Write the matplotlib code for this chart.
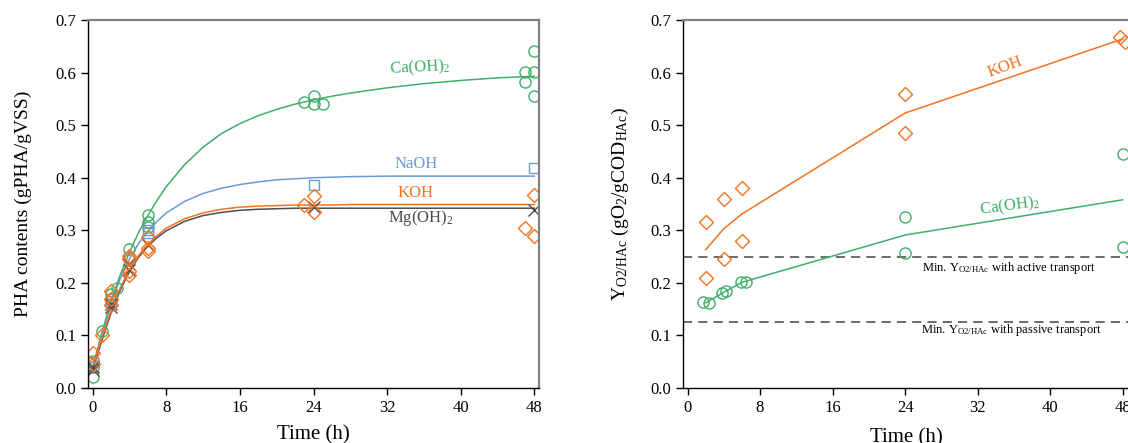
import matplotlib
matplotlib.use("Agg")
import matplotlib.pyplot as plt
import numpy as np

plt.rcParams['font.family'] = ['Liberation Serif', 'DejaVu Serif']
plt.rcParams['mathtext.fontset'] = 'custom'
plt.rcParams['mathtext.rm'] = 'Liberation Serif'
plt.rcParams['mathtext.it'] = 'Liberation Serif:italic'

# colours
c_ca = '#3fae6a'
c_na = '#6c9bd2'
c_k = '#f5721f'
c_mg = '#4d4d4d'

# ---------------- left panel: PHA contents ----------------
# measured points (time h, PHA gPHA/gVSS)
ca_t = [0, 0, 0, 1, 2, 2, 2.6, 4, 4, 6, 6, 6, 23, 24, 24, 25, 47, 47, 48, 48, 48]
ca_y = [0.02, 0.04, 0.052, 0.108, 0.17, 0.178, 0.19, 0.265, 0.25, 0.329, 0.315, 0.307,
        0.544, 0.555, 0.540, 0.541, 0.601, 0.582, 0.641, 0.601, 0.556]
na_t = [0, 0, 2, 2, 4, 6, 6, 24, 48]
na_y = [0.04, 0.05, 0.17, 0.165, 0.245, 0.30, 0.295, 0.387, 0.418]
k_t = [0, 0, 1, 2, 2, 2, 4, 4, 4, 4, 6, 6, 6, 23, 24, 24, 47, 48, 48]
k_y = [0.067, 0.045, 0.10, 0.185, 0.17, 0.158, 0.252, 0.245, 0.222, 0.215, 0.288, 0.266,
       0.261, 0.349, 0.366, 0.335, 0.305, 0.368, 0.29]
mg_t = [0, 0, 2, 2, 4, 4, 6, 24, 48]
mg_y = [0.035, 0.04, 0.155, 0.16, 0.235, 0.225, 0.272, 0.345, 0.339]

# model curves
fit_t = [0, 1, 2, 3, 4, 5, 6, 7, 8, 10, 12, 14, 16, 18, 20, 22, 24, 26, 28, 32, 36, 40, 44, 48]
ca_fit = [0.038, 0.105, 0.165, 0.215, 0.258, 0.296, 0.328, 0.357, 0.383, 0.425, 0.458, 0.484,
          0.503, 0.518, 0.530, 0.540, 0.548, 0.555, 0.561, 0.571, 0.579, 0.585, 0.590, 0.593]
na_fit = [0.035, 0.100, 0.160, 0.208, 0.245, 0.275, 0.298, 0.317, 0.333, 0.355, 0.370, 0.380,
          0.387, 0.392, 0.396, 0.398, 0.400, 0.401, 0.402, 0.403, 0.403, 0.403, 0.403, 0.403]
k_fit = [0.040, 0.095, 0.148, 0.190, 0.225, 0.252, 0.273, 0.290, 0.304, 0.322, 0.333, 0.340,
         0.344, 0.346, 0.347, 0.348, 0.348, 0.348, 0.349, 0.349, 0.349, 0.349, 0.349, 0.349]
mg_fit = [0.035, 0.090, 0.143, 0.186, 0.221, 0.249, 0.270, 0.286, 0.299, 0.317, 0.328, 0.334,
          0.338, 0.340, 0.341, 0.342, 0.342, 0.342, 0.342, 0.342, 0.342, 0.342, 0.342, 0.342]

# ---------------- right panel: oxygen yield ----------------
yk_t = [2, 2, 4, 4, 6, 6, 24, 24, 47.7, 48.3]
yk_y = [0.315, 0.21, 0.36, 0.245, 0.38, 0.28, 0.56, 0.485, 0.668, 0.659]
yk_line_t = [2, 4, 6, 24, 48]
yk_line_y = [0.263, 0.303, 0.331, 0.523, 0.664]
yca_t = [1.7, 2.35, 3.75, 4.25, 5.85, 6.4, 24, 24, 48, 48]
yca_y = [0.163, 0.161, 0.18, 0.184, 0.201, 0.201, 0.325, 0.256, 0.446, 0.269]
yca_line_t = [2, 4, 6, 24, 48]
yca_line_y = [0.162, 0.182, 0.201, 0.291, 0.358]
y_active = 0.25
y_passive = 0.125

xticks = [0, 8, 16, 24, 32, 40, 48]
yticks = [0.0, 0.1, 0.2, 0.3, 0.4, 0.5, 0.6, 0.7]

fig = plt.figure(figsize=(11.28, 4.43), dpi=100)
W, H = 1128, 443
ax1 = fig.add_axes([88 / W, 1 - 388 / H, 451 / W, 368 / H])
ax2 = fig.add_axes([683 / W, 1 - 388 / H, 446 / W, 368 / H])


def style(ax, xmax):
    ax.set_xlim(-0.5, xmax)
    ax.set_ylim(0, 0.7)
    ax.set_xticks(xticks)
    ax.set_yticks(yticks)
    ax.yaxis.set_major_formatter(matplotlib.ticker.FormatStrFormatter('%.1f'))
    ax.tick_params(direction='out', length=5, width=1, labelsize=12, top=False, right=False)
    for s in ['left', 'bottom']:
        ax.spines[s].set_color('black')
        ax.spines[s].set_linewidth(1.0)
    for s in ['top', 'right']:
        ax.spines[s].set_color('#808080')
        ax.spines[s].set_linewidth(1.6)


mk = dict(linestyle='none', markerfacecolor='none', markeredgewidth=1.0)

ax1.plot(fit_t, ca_fit, color=c_ca, lw=1.1)
ax1.plot(fit_t, na_fit, color=c_na, lw=1.1)
ax1.plot(fit_t, mg_fit, color=c_mg, lw=1.1)
ax1.plot(fit_t, k_fit, color=c_k, lw=1.1)
ax1.plot(ca_t, ca_y, marker='o', ms=8, markeredgecolor=c_ca, **mk)
ax1.plot(na_t, na_y, marker='s', ms=7, markeredgecolor=c_na, **mk)
ax1.plot(mg_t, mg_y, marker='x', ms=8, markeredgecolor=c_mg, linestyle='none', markeredgewidth=1.0)
ax1.plot(k_t, k_y, marker='D', ms=7, markeredgecolor=c_k, **mk)
style(ax1, 48.5)
ax1.set_xlabel('Time (h)', fontsize=15, labelpad=7)
ax1.set_ylabel('PHA contents (gPHA/gVSS)', fontsize=14, labelpad=17)
ax1.text(35.6, 0.609, r'Ca(OH)$_2$', color=c_ca, fontsize=12, ha='center', va='center', rotation=3)
ax1.text(35.1, 0.426, 'NaOH', color=c_na, fontsize=12, ha='center', va='center')
ax1.text(35.1, 0.371, 'KOH', color=c_k, fontsize=12, ha='center', va='center')
ax1.text(35.6, 0.323, r'Mg(OH)$_2$', color=c_mg, fontsize=12, ha='center', va='center')

ax2.axhline(y_active, color='#444444', lw=1.1, dashes=(6, 4))
ax2.axhline(y_passive, color='#444444', lw=1.1, dashes=(6, 4))
ax2.plot(yk_line_t, yk_line_y, color=c_k, lw=1.1)
ax2.plot(yca_line_t, yca_line_y, color=c_ca, lw=1.1)
ax2.plot(yk_t, yk_y, marker='D', ms=7, markeredgecolor=c_k, **mk)
ax2.plot(yca_t, yca_y, marker='o', ms=8, markeredgecolor=c_ca, **mk)
style(ax2, 48.7)
ax2.spines['right'].set_visible(False)
ax2.set_xlabel('Time (h)', fontsize=15, labelpad=9)
ax2.set_ylabel(r'Y$_{\mathrm{O2/HAc}}$ (gO$_2$/gCOD$_{\mathrm{HAc}}$)', fontsize=14, labelpad=14)
ax2.text(35.0, 0.611, 'KOH', color=c_k, fontsize=12, ha='center', va='center', rotation=20)
ax2.text(35.5, 0.346, r'Ca(OH)$_2$', color=c_ca, fontsize=12, ha='center', va='center', rotation=8)
ax2.text(35.5, 0.228, r'Min. Y$_{\mathrm{O2/HAc}}$ with active transport', fontsize=9,
         ha='center', va='center')
ax2.text(35.7, 0.110, r'Min. Y$_{\mathrm{O2/HAc}}$ with passive transport', fontsize=9,
         ha='center', va='center')

fig.savefig('out.png', dpi=100)
